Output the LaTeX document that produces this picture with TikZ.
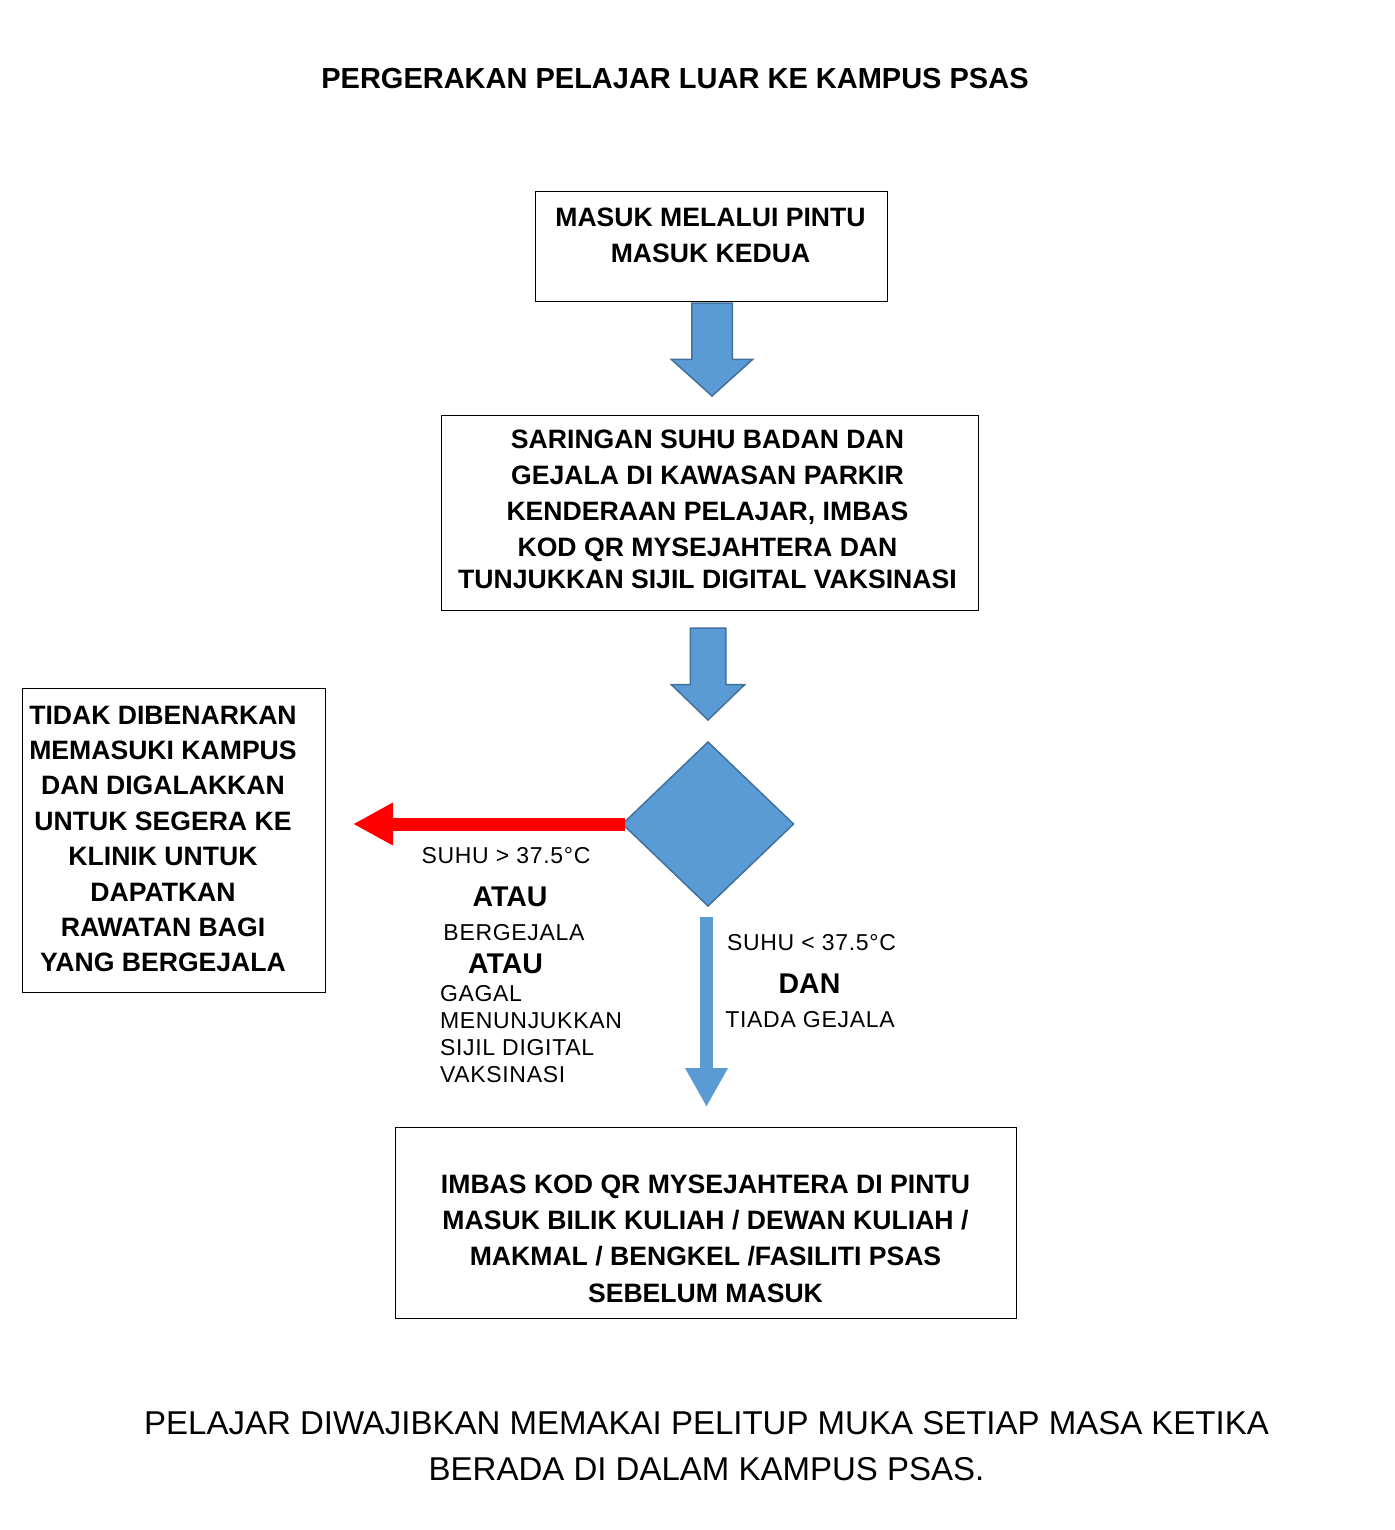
\documentclass[tikz,border=0pt]{standalone}
\usepackage{fontspec}
\setmainfont{Liberation Sans}
\newfontfamily\condfont[LetterSpace=3]{Liberation Sans}
\definecolor{c5B9BD5}{RGB}{91,155,213}
\definecolor{c41719C}{RGB}{65,113,156}
\definecolor{cFF0000}{RGB}{255,0,0}
\usetikzlibrary{shapes.geometric,shapes.arrows,arrows.meta,calc}

\begin{document}
\begin{tikzpicture}[y=1pt,x=1pt,yscale=-1, inner sep=0pt, outer sep=0pt,
    box/.style={draw=black,line width=1pt,rectangle},
    boxtext/.style={align=center,font=\fontsize{26.6}{36.3}\selectfont\bfseries},
    blockarrow/.style={single arrow,draw=c41719C,fill=c5B9BD5,line width=1.5pt,
      rotate=-90,anchor=tail},
    cond/.style={font=\condfont\fontsize{23}{27}\selectfont},
    condbig/.style={font=\fontsize{28.5}{34}\selectfont\bfseries}]
  \useasboundingbox (0,0) rectangle (1394,1530);

  % title
  \node[font=\fontsize{29}{34}\selectfont\bfseries] (title) at (675,79)
    {PERGERAKAN PELAJAR LUAR KE KAMPUS PSAS};

  % boxes
  \node[box,minimum width=352,minimum height=109] (entry) at (711,246.5) {};
  \node[boxtext] (entrytext) at (710.5,235)
    {MASUK MELALUI PINTU\\MASUK KEDUA};
  \node[box,minimum width=537,minimum height=195] (screen) at (709.5,512.5) {};
  \node[boxtext] (screentext) at (707.5,509)
    {SARINGAN SUHU BADAN DAN\\GEJALA DI KAWASAN PARKIR\\KENDERAAN PELAJAR, IMBAS\\
     KOD QR MYSEJAHTERA DAN\\[-5pt]TUNJUKKAN SIJIL DIGITAL VAKSINASI};
  \node[box,minimum width=303,minimum height=304] (deny) at (173.5,840) {};
  \node[boxtext,font=\fontsize{26.6}{35.4}\selectfont\bfseries] (denytext) at (163,839)
    {TIDAK DIBENARKAN\\MEMASUKI KAMPUS\\DAN DIGALAKKAN\\UNTUK SEGERA KE\\
     KLINIK UNTUK\\DAPATKAN\\RAWATAN BAGI\\YANG BERGEJALA};
  \node[box,minimum width=621,minimum height=191] (pass) at (705.5,1222.5) {};
  \node[boxtext] (passtext) at (705.5,1238.5)
    {IMBAS KOD QR MYSEJAHTERA DI PINTU\\MASUK BILIK KULIAH / DEWAN KULIAH /\\
     MAKMAL / BENGKEL /FASILITI PSAS\\SEBELUM MASUK};

  % block arrows
  \node[blockarrow,minimum height=93,inner ysep=19.5,single arrow head extend=20.5,
    single arrow tip angle=96] (step1) at (712,303) {};
  \node[blockarrow,minimum height=92,inner ysep=17,single arrow head extend=19,
    single arrow tip angle=92] (step2) at (708,628) {};

  % decision
  \node[diamond,draw=c41719C,fill=c5B9BD5,line width=1.5pt,minimum width=171,
    minimum height=164] (dec) at (708,824) {};

  \draw[cFF0000,line width=13pt,-{Triangle[width=40pt,length=40pt]},
    shorten <=-2pt,shorten >=28pt] (dec.west) -- (dec.west -| deny.east);
  \draw[c5B9BD5,line width=13pt,-{Triangle[width=40pt,length=39pt]},
    shorten <=11pt,shorten >=20pt] ($(dec.south)+(-1.5,0)$) -- ($(dec.south |- pass.north)+(-1.5,0)$);

  % conditions
  \node[cond] (hot) at (506,856) {SUHU > 37.5°C};
  \node[condbig] (or1) at (510,897) {ATAU};
  \node[cond] (sick) at (514,933) {BERGEJALA};
  \node[condbig] (or2) at (505.5,964) {ATAU};
  \node[cond,align=left,anchor=north west] (nocert) at (440,985)
    {GAGAL\\MENUNJUKKAN\\SIJIL DIGITAL\\VAKSINASI};
  \node[cond] (cool) at (811.5,943) {SUHU < 37.5°C};
  \node[condbig] (and) at (809.5,984) {DAN};
  \node[cond] (well) at (810,1020) {TIADA GEJALA};

  % footer
  \node[align=center,font=\fontsize{33}{46}\selectfont] (note) at (706.5,1446)
    {PELAJAR DIWAJIBKAN MEMAKAI PELITUP MUKA SETIAP MASA KETIKA\\
     BERADA DI DALAM KAMPUS PSAS.};
\end{tikzpicture}
\end{document}
